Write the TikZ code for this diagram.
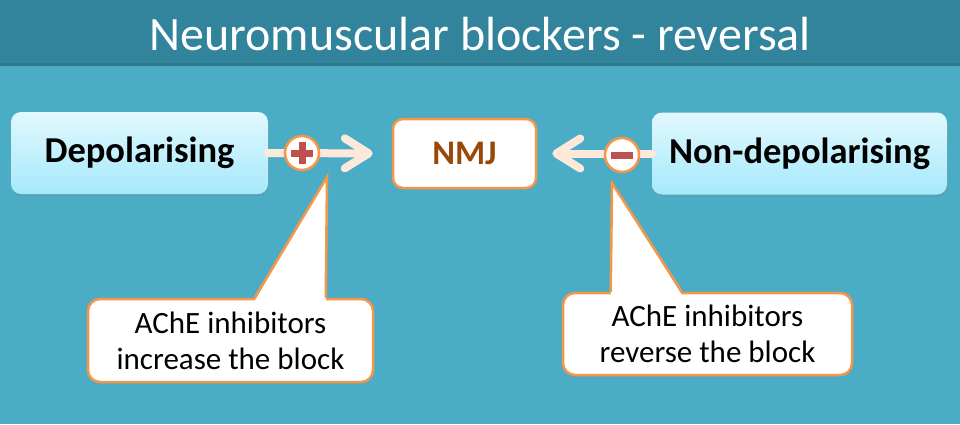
\documentclass[tikz,border=0pt]{standalone}
\usepackage{fontspec}
\setmainfont{Carlito}
\usetikzlibrary{arrows.meta,shadows}
\definecolor{bg}{HTML}{4BACC6}
\definecolor{bar}{HTML}{31849B}
\definecolor{barline}{HTML}{2D7A8F}
\definecolor{boxtop}{HTML}{E2F8FE}
\definecolor{boxbot}{HTML}{A5E9FB}
\definecolor{peach}{HTML}{FDE9D9}
\definecolor{orng}{HTML}{F79646}
\definecolor{redc}{HTML}{C0504D}
\definecolor{brn}{HTML}{984807}
\tikzset{
  titletext/.style={text=white, font=\fontsize{48}{52}\selectfont, inner sep=0pt},
  drug/.style={rounded corners=10pt, top color=boxtop, bottom color=boxbot, draw=none,
    font=\fontsize{36.5}{40}\selectfont\bfseries, text=black, minimum height=82pt,
    drop shadow={opacity=0.25, shadow xshift=1pt, shadow yshift=-2pt}},
  nmjbox/.style={rounded corners=10pt, fill=white, draw=orng, line width=2.5pt,
    font=\fontsize{34.5}{40}\selectfont\bfseries, text=brn, minimum width=143pt, minimum height=69pt},
  conn/.style={draw=peach, line width=8pt, line cap=round,
    -{Straight Barb[length=24pt, width=30pt, round]}},
  sign/.style={circle, fill=white, draw=orng, line width=2.5pt, minimum size=34pt, inner sep=0pt},
  callout/.style={rounded corners=12pt, fill=white, draw=orng, line width=2.5pt,
    font=\fontsize{31}{36}\selectfont, align=center, text=black},
  pointer/.style={draw=orng, line width=2.5pt, line join=miter},
}
\begin{document}
\begin{tikzpicture}[x=1pt,y=-1pt]
\fill[bg] (0,0) rectangle (960,424);
\useasboundingbox (0,0) rectangle (960,424);
\fill[bar] (0,0) rectangle (960,66);
\draw[barline, line width=3pt] (0,64.5) -- (960,64.5);
\node[titletext] (title) at (480,34) {Neuromuscular blockers - reversal};

\node[drug, minimum width=257pt] (dep) at (139.5,153) {Depolarising};
\node[drug, minimum width=295pt] (nondep) at (799.5,153.5) {Non-depolarising};
\node[nmjbox] (nmj) at (464.5,153.5) {NMJ};

\draw[conn, shorten >=19pt] (dep.east) -- (nmj.west);
\draw[conn, shorten >=15pt] (nondep.west) -- (nmj.east);

\node[sign] (plus) at (302,153) {};
\fill[redc] ([xshift=-11pt,yshift=-3.5pt]plus.center) rectangle ([xshift=11pt,yshift=3.5pt]plus.center);
\fill[redc] ([xshift=-3.5pt,yshift=-11pt]plus.center) rectangle ([xshift=3.5pt,yshift=11pt]plus.center);
\node[sign] (minus) at (622,155) {};
\fill[redc] ([xshift=-11pt,yshift=-3.5pt]minus.center) rectangle ([xshift=11pt,yshift=3.5pt]minus.center);

% left callout
\node[callout, minimum width=285pt, minimum height=83pt] (cl) at (230.5,340.5) {AChE inhibitors\\increase the block};
\coordinate (ltip) at (327,177);
\fill[white] ([xshift=168pt,yshift=-3pt]cl.north west) -- (ltip) -- ([xshift=239pt,yshift=-3pt]cl.north west) -- cycle;
\draw[pointer] ([xshift=168pt]cl.north west) -- (ltip) -- ([xshift=239pt]cl.north west);

% right callout
\node[callout, minimum width=289pt, minimum height=82pt] (cr) at (707.5,334) {AChE inhibitors\\reverse the block};
\coordinate (rtip) at (612,183);
\fill[white] ([xshift=49pt,yshift=-3pt]cr.north west) -- (rtip) -- ([xshift=120pt,yshift=-3pt]cr.north west) -- cycle;
\draw[pointer] ([xshift=49pt]cr.north west) -- (rtip) -- ([xshift=120pt]cr.north west);
\end{tikzpicture}
\end{document}
